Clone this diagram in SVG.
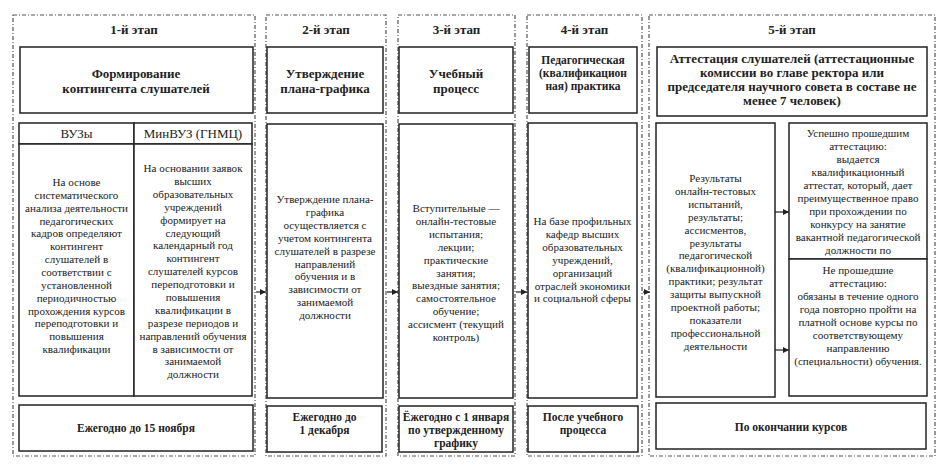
<svg xmlns="http://www.w3.org/2000/svg" width="945" height="468" viewBox="0 0 945 468">
<defs>
<style>
.stage{fill:none;stroke:#555;stroke-width:1.2;stroke-dasharray:4 2 1 2;}
.box{fill:#fff;stroke:#222;stroke-width:1.5;}
.t{font-family:"Liberation Serif","Times New Roman",serif;font-size:11.1px;fill:#222;text-anchor:middle;}
.s{font-family:"Liberation Serif","Times New Roman",serif;font-size:13px;fill:#222;text-anchor:middle;}
.b{font-family:"Liberation Serif","Times New Roman",serif;font-size:13px;font-weight:bold;fill:#222;text-anchor:middle;}
.b4{font-family:"Liberation Serif","Times New Roman",serif;font-size:11.5px;font-weight:bold;fill:#222;text-anchor:middle;}
.bd{font-family:"Liberation Serif","Times New Roman",serif;font-size:11.5px;font-weight:bold;fill:#222;text-anchor:middle;}
.c{stroke:#222;stroke-width:1.2;fill:none;marker-end:url(#ah);}
</style>
<marker id="ah" viewBox="0 0 8 8" refX="8" refY="4" markerWidth="6" markerHeight="6" markerUnits="userSpaceOnUse" orient="auto">
<path d="M0,0 L8,4 L0,8 z" fill="#222"/>
</marker>
</defs>
<rect width="945" height="468" fill="#fff"/>

<g id="stage1">
<rect class="stage" x="13" y="15" width="242" height="441"/>
<text class="b" x="134" y="34">1-й этап</text>
<rect class="box" x="20" y="47" width="233" height="66"/>
<text class="b" x="136" y="78">Формирование<tspan x="136" dy="15">контингента слушателей</tspan></text>
<rect class="box" x="19" y="123" width="115" height="21"/>
<rect class="box" x="134" y="123" width="118" height="21"/>
<text class="s" x="76.5" y="138">ВУЗы</text>
<text class="s" x="193" y="138">МинВУЗ (ГНМЦ)</text>
<rect class="box" x="19" y="144" width="115" height="252"/>
<rect class="box" x="134" y="144" width="118" height="252"/>
<text class="t" x="76.5" y="186">На основе<tspan x="76.5" dy="12.85">систематического</tspan><tspan x="76.5" dy="12.85">анализа деятельности</tspan><tspan x="76.5" dy="12.85">педагогических</tspan><tspan x="76.5" dy="12.85">кадров определяют</tspan><tspan x="76.5" dy="12.85">контингент</tspan><tspan x="76.5" dy="12.85">слушателей в</tspan><tspan x="76.5" dy="12.85">соответствии с</tspan><tspan x="76.5" dy="12.85">установленной</tspan><tspan x="76.5" dy="12.85">периодичностью</tspan><tspan x="76.5" dy="12.85">прохождения курсов</tspan><tspan x="76.5" dy="12.85">переподготовки и</tspan><tspan x="76.5" dy="12.85">повышения</tspan><tspan x="76.5" dy="12.85">квалификации</tspan></text>
<text class="t" x="193" y="172">На основании заявок<tspan x="193" dy="12.9">высших</tspan><tspan x="193" dy="12.9">образовательных</tspan><tspan x="193" dy="12.9">учреждений</tspan><tspan x="193" dy="12.9">формирует на</tspan><tspan x="193" dy="12.9">следующий</tspan><tspan x="193" dy="12.9">календарный год</tspan><tspan x="193" dy="12.9">контингент</tspan><tspan x="193" dy="12.9">слушателей курсов</tspan><tspan x="193" dy="12.9">переподготовки и</tspan><tspan x="193" dy="12.9">повышения</tspan><tspan x="193" dy="12.9">квалификации в</tspan><tspan x="193" dy="12.9">разрезе периодов и</tspan><tspan x="193" dy="12.9">направлений обучения</tspan><tspan x="193" dy="12.9">в зависимости от</tspan><tspan x="193" dy="12.9">занимаемой</tspan><tspan x="193" dy="12.9">должности</tspan></text>
<rect class="box" x="19" y="405" width="234" height="46"/>
<text class="bd" x="136" y="432">Ежегодно до 15 ноября</text>
</g>

<g id="stage2">
<rect class="stage" x="266" y="15" width="120" height="441"/>
<text class="b" x="326" y="34">2-й этап</text>
<rect class="box" x="267" y="47" width="116" height="66"/>
<text class="b" x="325" y="77.5">Утверждение<tspan x="325" dy="15">плана-графика</tspan></text>
<rect class="box" x="267" y="124" width="116" height="274"/>
<text class="t" x="325" y="203">Утверждение плана-<tspan x="325" dy="12.9">графика</tspan><tspan x="325" dy="12.9">осуществляется с</tspan><tspan x="325" dy="12.9">учетом контингента</tspan><tspan x="325" dy="12.9">слушателей в разрезе</tspan><tspan x="325" dy="12.9">направлений</tspan><tspan x="325" dy="12.9">обучения и в</tspan><tspan x="325" dy="12.9">зависимости от</tspan><tspan x="325" dy="12.9">занимаемой</tspan><tspan x="325" dy="12.9">должности</tspan></text>
<rect class="box" x="267" y="406" width="115" height="46"/>
<text class="bd" x="324.5" y="421">Ежегодно до<tspan x="324.5" dy="12.5">1 декабря</tspan></text>
</g>

<g id="stage3">
<rect class="stage" x="398" y="15" width="117" height="441"/>
<text class="b" x="456.5" y="34">3-й этап</text>
<rect class="box" x="399" y="47" width="114" height="66"/>
<text class="b" x="456" y="77.5">Учебный<tspan x="456" dy="15">процесс</tspan></text>
<rect class="box" x="399" y="124" width="114" height="274"/>
<text class="t" x="456" y="212">Вступительные —<tspan x="456" dy="12.9">онлайн-тестовые</tspan><tspan x="456" dy="12.9">испытания;</tspan><tspan x="456" dy="12.9">лекции;</tspan><tspan x="456" dy="12.9">практические</tspan><tspan x="456" dy="12.9">занятия;</tspan><tspan x="456" dy="12.9">выездные занятия;</tspan><tspan x="456" dy="12.9">самостоятельное</tspan><tspan x="456" dy="12.9">обучение;</tspan><tspan x="456" dy="12.9">ассисмент (текущий</tspan><tspan x="456" dy="12.9">контроль)</tspan></text>
<rect class="box" x="399" y="406" width="114" height="46"/>
<text class="bd" x="456" y="421">Ёжегодно с 1 января<tspan x="456" dy="12.5">по утвержденному</tspan><tspan x="456" dy="13">графику</tspan></text>
</g>

<g id="stage4">
<rect class="stage" x="527" y="15" width="115" height="441"/>
<text class="b" x="584.5" y="34">4-й этап</text>
<rect class="box" x="529" y="47" width="108" height="66"/>
<text class="b4" x="583" y="64">Педагогическая<tspan x="583" dy="13">(квалификацион</tspan><tspan x="583" dy="13">ная) практика</tspan></text>
<rect class="box" x="528" y="123" width="109" height="275"/>
<text class="t" x="582.5" y="225">На базе профильных<tspan x="582.5" dy="12.9">кафедр высших</tspan><tspan x="582.5" dy="12.9">образовательных</tspan><tspan x="582.5" dy="12.9">учреждений,</tspan><tspan x="582.5" dy="12.9">организаций</tspan><tspan x="582.5" dy="12.9">отраслей экономики</tspan><tspan x="582.5" dy="12.9">и социальной сферы</tspan></text>
<rect class="box" x="528" y="406" width="110" height="46"/>
<text class="bd" x="583" y="421">После учебного<tspan x="583" dy="12.5">процесса</tspan></text>
</g>

<g id="stage5">
<rect class="stage" x="649" y="15" width="286" height="441"/>
<text class="b" x="792" y="34">5-й этап</text>
<rect class="box" x="657" y="47" width="270" height="69"/>
<text class="b" x="792" y="62.5">Аттестация слушателей (аттестационные<tspan x="792" dy="14">комиссии во главе ректора или</tspan><tspan x="792" dy="14">председателя научного совета в составе не</tspan><tspan x="792" dy="14">менее 7 человек)</tspan></text>
<rect class="box" x="656" y="123" width="119" height="274"/>
<text class="t" x="715.5" y="182">Результаты<tspan x="715.5" dy="12.9">онлайн-тестовых</tspan><tspan x="715.5" dy="12.9">испытаний,</tspan><tspan x="715.5" dy="12.9">результаты;</tspan><tspan x="715.5" dy="12.9">ассисментов,</tspan><tspan x="715.5" dy="12.9">результаты</tspan><tspan x="715.5" dy="12.9">педагогической</tspan><tspan x="715.5" dy="12.9">(квалификационной)</tspan><tspan x="715.5" dy="12.9">практики; результат</tspan><tspan x="715.5" dy="12.9">защиты выпускной</tspan><tspan x="715.5" dy="12.9">проектной работы;</tspan><tspan x="715.5" dy="12.9">показатели</tspan><tspan x="715.5" dy="12.9">профессиональной</tspan><tspan x="715.5" dy="12.9">деятельности</tspan></text>
<rect class="box" x="789" y="123" width="138" height="136"/>
<text class="t" x="858" y="137">Успешно прошедшим<tspan x="858" dy="13">аттестацию:</tspan><tspan x="858" dy="13">выдается</tspan><tspan x="858" dy="13">квалификационный</tspan><tspan x="858" dy="13">аттестат, который, дает</tspan><tspan x="858" dy="13">преимущественное право</tspan><tspan x="858" dy="13">при прохождении по</tspan><tspan x="858" dy="13">конкурсу на занятие</tspan><tspan x="858" dy="13">вакантной педагогической</tspan><tspan x="858" dy="13">должности по</tspan></text>
<rect class="box" x="789" y="259" width="138" height="137"/>
<text class="t" x="858" y="274">Не прошедшие<tspan x="858" dy="13">аттестацию:</tspan><tspan x="858" dy="13">обязаны в течение одного</tspan><tspan x="858" dy="13">года повторно пройти на</tspan><tspan x="858" dy="13">платной основе курсы по</tspan><tspan x="858" dy="13">соответствующему</tspan><tspan x="858" dy="13">направлению</tspan><tspan x="858" dy="13">(специальности) обучения.</tspan></text>
<rect class="box" x="656" y="403" width="270" height="46"/>
<text class="bd" x="791" y="431">По окончании курсов</text>
</g>

<g id="connectors">
<line class="c" x1="256" y1="292" x2="266" y2="292"/>
<line class="c" x1="387" y1="292" x2="398" y2="292"/>
<line class="c" x1="516" y1="292" x2="527" y2="292"/>
<line class="c" x1="643" y1="292" x2="650" y2="292"/>
<line class="c" x1="775" y1="212" x2="789" y2="212"/>
<line class="c" x1="775" y1="350" x2="789" y2="350"/>
</g>
</svg>
